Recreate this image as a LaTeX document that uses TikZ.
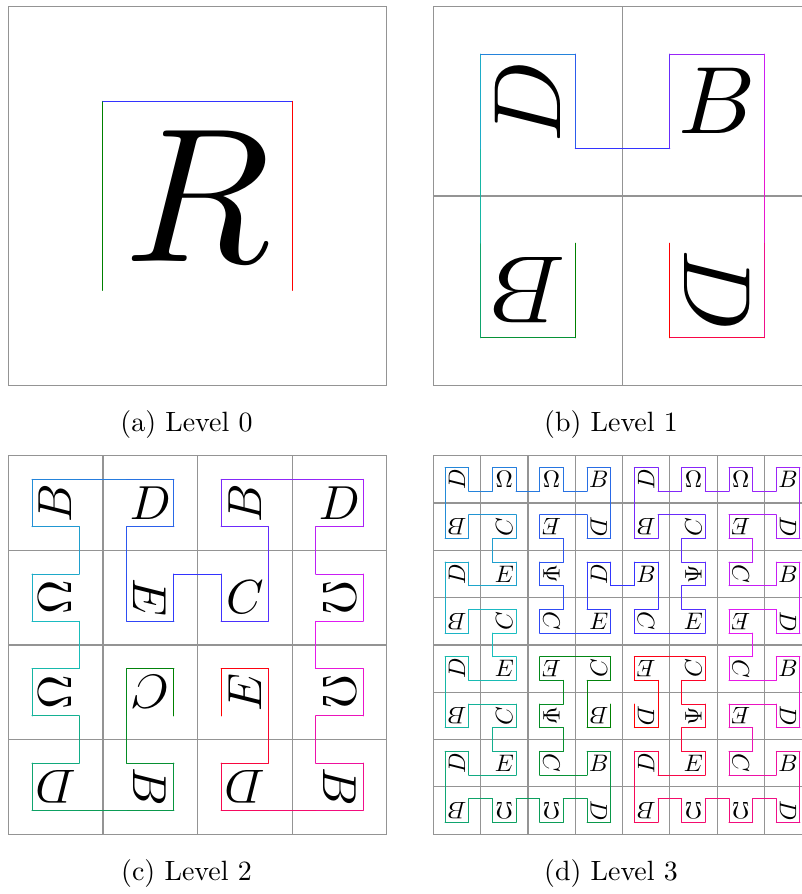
\documentclass[tikz,border=0pt]{standalone}
\definecolor{hca}{rgb}{0,0.5,0}
\definecolor{hcb}{rgb}{0.1,0.75,0.75}
\definecolor{hcc}{rgb}{0.2,0.2,1}
\definecolor{hcd}{rgb}{0.9,0.1,0.95}
\definecolor{hce}{rgb}{1,0,0}
\tikzset{
  gridline/.style={draw=black!42, line width=1.2pt},
  curveline/.style={line width=0.85pt, line cap=round},
  glyph/.style={inner sep=0pt, outer sep=0pt},
  captiontext/.style={scale=2.79, anchor=base, inner sep=0pt}
}
% panel frame and grid: ox, oy, side, n
\newcommand{\hgrid}[4]{%
  \draw[gridline] (#1,#2) rectangle ({#1+#3},{#2+#3});
  \ifnum#4>1
    \pgfmathtruncatemacro\nm{#4-1}%
    \foreach \m in {1,...,\nm} {%
      \draw[gridline] ({#1+\m*#3/#4},#2) -- ({#1+\m*#3/#4},{#2+#3});
      \draw[gridline] (#1,{#2+\m*#3/#4}) -- ({#1+#3},{#2+\m*#3/#4});
    }%
  \fi
}
% curve: ox, oy, cell, number of segments, point list
% colour runs green -> teal -> blue -> magenta -> red
\newcommand{\hcurve}[5]{%
  \foreach \xa/\ya [count=\k, remember=\xa as \xp (initially 0), remember=\ya as \yp (initially 0)] in {#5} {%
    \ifnum\k>1
      \pgfmathsetmacro\tv{4*(\k-2)/(#4-1)}%
      \pgfmathtruncatemacro\sgi{min(\tv,3.999)}%
      \pgfmathtruncatemacro\ppc{round(100*(\tv-\sgi))}%
      \ifcase\sgi \def\cfrom{hca}\def\cto{hcb}\or \def\cfrom{hcb}\def\cto{hcc}\or \def\cfrom{hcc}\def\cto{hcd}\or \def\cfrom{hcd}\def\cto{hce}\fi
      \draw[curveline, color=\cto!\ppc!\cfrom] ({#1+#3/4+\xp*#3/2},{#2+#3/4+\yp*#3/2}) -- ({#1+#3/4+\xa*#3/2},{#2+#3/4+\ya*#3/2});%
    \fi
  }%
}
% letters: prefix, ox, oy, cell, list col/row/letter/angle
\newcommand{\hletters}[5]{%
  \pgfmathsetmacro\fsc{0.0505*#4}%
  \foreach \ci/\ri/\ltr/\ang in {#5} {%
    \node[glyph, rotate=\ang, scale=\fsc] (#1-\ci-\ri) at ({#2+(\ci+0.5)*#4},{#3+(\ri+0.5)*#4}) {$\ltr$};
  }%
}
\begin{document}
\begin{tikzpicture}[x=1pt,y=-1pt]
\useasboundingbox (0,0) rectangle (802,894);
\clip (0,0) rectangle (802,894);

% ---------- (a) Level 0 ----------
\hgrid{8.3}{6.7}{378.4}{1}
\hcurve{8.3}{6.7}{378.4}{3}{0/1,0/0,1/0,1/1}
\hletters{La}{8.3}{6.7}{378.4}{0/0/R/0}

% ---------- (b) Level 1 ----------
\hgrid{433.3}{6.7}{378.4}{2}
\hcurve{433.3}{6.7}{189.2}{15}{1/2,1/3,0/3,0/2,0/1,0/0,1/0,1/1,2/1,2/0,3/0,3/1,3/2,3/3,2/3,2/2}
\hletters{Lb}{433.3}{6.7}{189.2}{0/0/D/90,1/0/B/0,0/1/B/180,1/1/D/-90}

% ---------- (c) Level 2 ----------
\hgrid{8.3}{455.7}{378.4}{4}
\hcurve{8.3}{455.7}{94.6}{63}{3/5,3/4,2/4,2/5,2/6,3/6,3/7,2/7,1/7,0/7,0/6,1/6,1/5,0/5,0/4,1/4,1/3,0/3,0/2,1/2,1/1,0/1,0/0,1/0,2/0,3/0,3/1,2/1,2/2,2/3,3/3,3/2,4/2,4/3,5/3,5/2,5/1,4/1,4/0,5/0,6/0,7/0,7/1,6/1,6/2,7/2,7/3,6/3,6/4,7/4,7/5,6/5,6/6,7/6,7/7,6/7,5/7,4/7,4/6,5/6,5/5,5/4,4/4,4/5}
\hletters{Lc}{8.3}{455.7}{94.6}{1/2/C/180,1/3/B/-90,0/3/D/180,0/2/\Omega/90,0/1/\Omega/90,0/0/B/90,1/0/D/0,1/1/E/-90,2/1/C/0,2/0/B/90,3/0/D/0,3/1/\Omega/-90,3/2/\Omega/-90,3/3/B/-90,2/3/D/180,2/2/E/90}

% ---------- (d) Level 3 ----------
\hgrid{433.3}{455.7}{378.4}{8}
\hcurve{433.3}{455.7}{47.3}{255}{7/10,7/11,6/11,6/10,6/9,7/9,7/8,6/8,5/8,4/8,4/9,5/9,5/10,4/10,4/11,5/11,5/12,4/12,4/13,5/13,6/13,6/12,7/12,7/13,7/14,7/15,6/15,6/14,5/14,5/15,4/15,4/14,3/14,3/15,2/15,2/14,1/14,1/15,0/15,0/14,0/13,0/12,1/12,1/13,2/13,3/13,3/12,2/12,2/11,3/11,3/10,2/10,1/10,1/11,0/11,0/10,0/9,0/8,1/8,1/9,2/9,3/9,3/8,2/8,2/7,3/7,3/6,2/6,1/6,1/7,0/7,0/6,0/5,0/4,1/4,1/5,2/5,3/5,3/4,2/4,2/3,3/3,3/2,2/2,1/2,1/3,0/3,0/2,0/1,0/0,1/0,1/1,2/1,2/0,3/0,3/1,4/1,4/0,5/0,5/1,6/1,6/0,7/0,7/1,7/2,7/3,6/3,6/2,5/2,4/2,4/3,5/3,5/4,4/4,4/5,5/5,5/6,4/6,4/7,5/7,6/7,7/7,7/6,6/6,6/5,6/4,7/4,7/5,8/5,8/4,9/4,9/5,9/6,8/6,8/7,9/7,10/7,11/7,11/6,10/6,10/5,11/5,11/4,10/4,10/3,11/3,11/2,10/2,9/2,9/3,8/3,8/2,8/1,8/0,9/0,9/1,10/1,10/0,11/0,11/1,12/1,12/0,13/0,13/1,14/1,14/0,15/0,15/1,15/2,15/3,14/3,14/2,13/2,12/2,12/3,13/3,13/4,12/4,12/5,13/5,14/5,14/4,15/4,15/5,15/6,15/7,14/7,14/6,13/6,12/6,12/7,13/7,13/8,12/8,12/9,13/9,14/9,14/8,15/8,15/9,15/10,15/11,14/11,14/10,13/10,12/10,12/11,13/11,13/12,12/12,12/13,13/13,14/13,14/12,15/12,15/13,15/14,15/15,14/15,14/14,13/14,13/15,12/15,12/14,11/14,11/15,10/15,10/14,9/14,9/15,8/15,8/14,8/13,8/12,9/12,9/13,10/13,11/13,11/12,10/12,10/11,11/11,11/10,10/10,10/9,11/9,11/8,10/8,9/8,8/8,8/9,9/9,9/10,9/11,8/11,8/10}
\hletters{Ld}{433.3}{455.7}{47.3}{3/5/B/180,3/4/C/90,2/4/E/180,2/5/\Psi/-90,2/6/C/-90,3/6/B/0,3/7/D/-90,2/7/\Omega/180,1/7/\Omega/180,0/7/B/180,0/6/D/90,1/6/E/0,1/5/C/90,0/5/B/180,0/4/D/90,1/4/E/0,1/3/C/90,0/3/B/180,0/2/D/90,1/2/E/0,1/1/C/90,0/1/B/180,0/0/D/90,1/0/\Omega/0,2/0/\Omega/0,3/0/B/0,3/1/D/-90,2/1/E/180,2/2/\Psi/-90,2/3/C/-90,3/3/E/0,3/2/D/90,4/2/B/0,4/3/C/-90,5/3/E/0,5/2/\Psi/90,5/1/C/90,4/1/B/180,4/0/D/90,5/0/\Omega/0,6/0/\Omega/0,7/0/B/0,7/1/D/-90,6/1/E/180,6/2/C/-90,7/2/B/0,7/3/D/-90,6/3/E/180,6/4/C/-90,7/4/B/0,7/5/D/-90,6/5/E/180,6/6/C/-90,7/6/B/0,7/7/D/-90,6/7/\Omega/180,5/7/\Omega/180,4/7/B/180,4/6/D/90,5/6/E/0,5/5/\Psi/90,5/4/C/90,4/4/E/180,4/5/D/-90}

% ---------- captions ----------
\node[captiontext] (capa) at (186.5,431) {(a) Level 0};
\node[captiontext] (capb) at (611,431) {(b) Level 1};
\node[captiontext] (capc) at (186.5,880) {(c) Level 2};
\node[captiontext] (capd) at (611,880) {(d) Level 3};
\end{tikzpicture}
\end{document}
